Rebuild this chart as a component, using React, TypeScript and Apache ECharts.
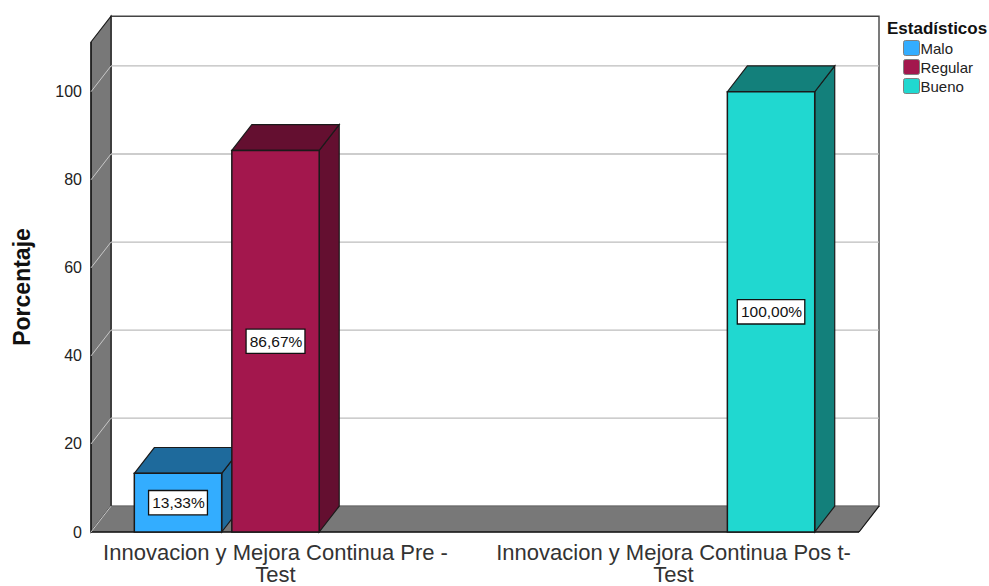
import React, { useEffect, useRef } from "react";
import * as echarts from "echarts";

// Percentages per test moment, one list per legend entry
const categories = [
  "Innovacion y Mejora Continua Pre -\nTest",
  "Innovacion y Mejora Continua Pos t-\nTest",
];
const malo = [13.33, null];
const regular = [86.67, null];
const bueno = [null, 100];
const seriesNames = ["Malo", "Regular", "Bueno"];
const valueLabels = ["13,33%", "86,67%", "100,00%"];
const gridTicks = [0, 20, 40, 60, 80, 100];

const FONT = '"Liberation Sans", Arial, sans-serif';
// Oblique depth of the 3D look, in pixels
const DX = 20;
const DY = -25.8;
// Bar width and cluster step, in x-axis units (one unit = one category)
const BAR_W = 0.2195;
const BAR_STEP = 0.245;

const WALL = "#787878";
const EDGE = "#1a1a1a";
const SWATCH = "path://M2,0H14Q16,0 16,2V13Q16,15 14,15H2Q0,15 0,13V2Q0,0 2,0Z";

const para = (pts: number[][], fill: string, stroke = EDGE, lineWidth = 1.2) => ({
  type: "polygon",
  shape: { points: pts },
  style: { fill, stroke, lineWidth },
});

function renderWalls(params: any, api: any) {
  const cs = params.coordSys;
  const l = cs.x;
  const r = cs.x + cs.width;
  const t = cs.y;
  const b = cs.y + cs.height;
  return {
    type: "group",
    children: [
      para([[l + DX, t + DY], [r + DX, t + DY], [r + DX, b + DY], [l + DX, b + DY]], "#ffffff", "#444444", 1.4),
      para([[l, t], [l + DX, t + DY], [l + DX, b + DY], [l, b]], WALL),
      para([[l, b], [l + DX, b + DY], [r + DX, b + DY], [r, b]], WALL, "#777777", 0.5),
      {
        type: "line",
        shape: { x1: l, y1: b, x2: r, y2: b },
        style: { stroke: "#111111", lineWidth: 1.5 },
      },
      {
        type: "line",
        shape: { x1: r, y1: b, x2: r + DX, y2: b + DY },
        style: { stroke: "#111111", lineWidth: 1.2 },
      },
      {
        type: "line",
        shape: { x1: l, y1: t, x2: l, y2: b },
        style: { stroke: "#111111", lineWidth: 1.2 },
      },
    ],
  };
}

function renderGridLine(params: any, api: any) {
  const cs = params.coordSys;
  const l = cs.x;
  const r = cs.x + cs.width;
  const y = api.coord([0, api.value(1)])[1];
  const children: any[] = [
    {
      type: "line",
      shape: { x1: l, y1: y, x2: l + DX, y2: y + DY },
      style: { stroke: "#c8c8c8", lineWidth: 1 },
    },
  ];
  if (api.value(1) > 0) {
    children.push({
      type: "line",
      shape: { x1: l + DX, y1: y + DY, x2: r + DX, y2: y + DY },
      style: { stroke: "#bdbdbd", lineWidth: 1.3 },
    });
  }
  return { type: "group", children };
}

function barRenderer(offset: number, face: string, dark: string, label: string) {
  return (_params: any, api: any) => {
    const cat = api.value(0);
    const val = api.value(1);
    const x0 = api.coord([cat + offset * BAR_STEP - BAR_W / 2, 0])[0];
    const x1 = api.coord([cat + offset * BAR_STEP + BAR_W / 2, 0])[0];
    const yb = api.coord([cat, 0])[1];
    const yt = api.coord([cat, val])[1];
    return {
      type: "group",
      children: [
        para([[x1, yb], [x1 + DX, yb + DY], [x1 + DX, yt + DY], [x1, yt]], dark),
        para([[x0, yt], [x0 + DX, yt + DY], [x1 + DX, yt + DY], [x1, yt]], dark),
        para([[x0, yt], [x1, yt], [x1, yb], [x0, yb]], face, EDGE, 1.5),
        {
          type: "text",
          style: {
            text: label,
            x: (x0 + x1) / 2,
            y: (yt + yb) / 2,
            align: "center",
            verticalAlign: "middle",
            fill: "#111111",
            font: `15.5px ${FONT}`,
            backgroundColor: "#ffffff",
            borderColor: "#111111",
            borderWidth: 1.3,
            padding: [4, 2, 3, 3],
          },
        },
      ],
    };
  };
}

const toPoints = (values: (number | null)[]) =>
  values.flatMap((v, i) => (v === null ? [] : [[i, v]]));

export default function App() {
  const ref = useRef<HTMLDivElement>(null);

  useEffect(() => {
    const chart = echarts.init(ref.current!, undefined, { renderer: "svg" });
    const barStyles = [
      { values: malo, face: "#33adff", dark: "#1e6a9c", offset: -1 },
      { values: regular, face: "#a3174d", dark: "#640f30", offset: 0 },
      { values: bueno, face: "#20d8d0", dark: "#13807b", offset: 1 },
    ];
    chart.setOption({
      animation: false,
      backgroundColor: "#ffffff",
      title: {
        text: "Estadísticos",
        left: 887,
        top: 20,
        padding: 0,
        textStyle: { fontFamily: FONT, fontSize: 17, fontWeight: "bold", color: "#111111" },
      },
      legend: {
        data: seriesNames,
        orient: "vertical",
        left: 903,
        top: 40,
        padding: 0,
        itemWidth: 16,
        itemHeight: 15,
        itemGap: 3,
        icon: SWATCH,
        selectedMode: false,
        itemStyle: { borderColor: "#808080", borderWidth: 1 },
        textStyle: {
          fontFamily: FONT,
          fontSize: 15,
          lineHeight: 15,
          color: "#222222",
          padding: [0, 0, 0, -4],
        },
      },
      grid: { left: 91, top: 42, right: 130, bottom: 54, outerBoundsMode: "none" },
      xAxis: {
        type: "value",
        min: -0.4636,
        max: 1.466,
        splitLine: { show: false },
        axisLine: { show: false },
        axisTick: { show: false },
        axisLabel: {
          customValues: [0, 1],
          formatter: (v: number) => categories[v],
          fontFamily: FONT,
          fontSize: 22,
          lineHeight: 22,
          color: "#333333",
          margin: 9.5,
        },
      },
      yAxis: {
        type: "value",
        min: 0,
        max: 111.3,
        interval: 20,
        name: "Porcentaje",
        nameLocation: "middle",
        nameGap: 58,
        nameTextStyle: { fontFamily: FONT, fontSize: 23, fontWeight: "bold", color: "#111111" },
        splitLine: { show: false },
        axisLine: { show: false },
        axisTick: { show: false },
        axisLabel: {
          showMaxLabel: false,
          fontFamily: FONT,
          fontSize: 16,
          color: "#222222",
          margin: 9,
          padding: [7, 0, 0, 0],
        },
      },
      series: [
        { type: "custom", silent: true, renderItem: renderWalls, data: [[0, 0]], z: 1 },
        {
          type: "custom",
          silent: true,
          renderItem: renderGridLine,
          data: gridTicks.map((t) => [0, t]),
          z: 2,
        },
        ...barStyles.map((b, i) => ({
          type: "custom",
          name: seriesNames[i],
          silent: true,
          z: 3 + i,
          itemStyle: { color: b.face },
          renderItem: barRenderer(b.offset, b.face, b.dark, valueLabels[i]),
          data: toPoints(b.values),
        })),
      ],
    });
    return () => chart.dispose();
  }, []);

  return (
    <div
      ref={ref}
      style={{ position: "absolute", left: 0, top: 0, width: 989, height: 586 }}
    />
  );
}
